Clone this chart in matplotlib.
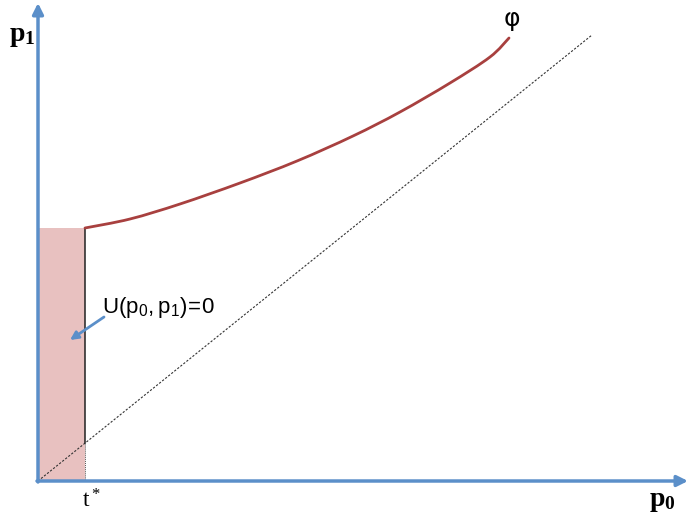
import matplotlib
matplotlib.use("Agg")
import matplotlib.pyplot as plt
from matplotlib.path import Path
from matplotlib.patches import PathPatch

plt.rcParams['mathtext.fontset'] = 'custom'
plt.rcParams['mathtext.rm'] = 'Liberation Serif'
plt.rcParams['mathtext.bf'] = 'Liberation Serif:bold'
plt.rcParams['mathtext.sf'] = 'Liberation Sans'

# threshold price and value of the boundary at the threshold
t_star = 47
p1_at_t = 253

# boundary curve phi(p0)
phi_p0 = [47, 92, 142, 202, 259, 315, 362, 412, 452, 471]
phi_p1 = [253, 262, 277, 298, 320, 345, 369, 398, 424, 443]

# 45-degree reference line end point
diag_p0 = [0, 554]
diag_p1 = [0, 446]
diag_slope = diag_p1[1] / diag_p0[1]

# axis extents
x_max = 650
y_max = 478

axis_blue = '#5b8fc9'
curve_red = '#a8403f'
fill_pink = '#e8c1c0'


def smooth_path(xs, ys):
    """Catmull-Rom spline through the given points, as cubic Bezier segments."""
    pts = list(zip(xs, ys))
    verts = [pts[0]]
    codes = [Path.MOVETO]
    n = len(pts)
    for i in range(n - 1):
        p0 = pts[i - 1] if i > 0 else pts[i]
        p1 = pts[i]
        p2 = pts[i + 1]
        p3 = pts[i + 2] if i + 2 < n else pts[i + 1]
        c1 = (p1[0] + (p2[0] - p0[0]) / 6, p1[1] + (p2[1] - p0[1]) / 6)
        c2 = (p2[0] - (p3[0] - p1[0]) / 6, p2[1] - (p3[1] - p1[1]) / 6)
        verts += [c1, c2, p2]
        codes += [Path.CURVE4] * 3
    return Path(verts, codes)


fig = plt.figure(figsize=(6.88, 5.18), dpi=100)
ax = fig.add_axes([0, 0, 1, 1])
ax.set_xlim(-38, 650)
ax.set_ylim(-37, 481)
ax.axis('off')

# region where U(p0, p1) = 0
ax.fill_between([0, t_star], 0, p1_at_t, color=fill_pink, lw=0, zorder=1)

# diagonal p1 = p0
ax.plot(diag_p0, diag_p1, color='#333333', lw=0.8, ls=(0, (2, 1.5)), zorder=2)

# vertical boundary at t*
cross = t_star * diag_slope
ax.plot([t_star, t_star], [cross, p1_at_t], color='#222222', lw=1.1, zorder=3)
ax.plot([t_star, t_star], [0, cross], color='#555555', lw=0.7, ls=(0, (1, 1)), zorder=3)

# boundary curve phi
ax.add_patch(PathPatch(smooth_path(phi_p0, phi_p1), fill=False, edgecolor=curve_red,
                       lw=2, capstyle='round', zorder=4))

# axes with arrow heads
arrow = dict(arrowstyle='-|>', lw=2.5, color=axis_blue, mutation_scale=16,
             shrinkA=0, shrinkB=0)
ax.annotate('', xy=(0, y_max), xytext=(0, -1), arrowprops=arrow, zorder=5)
ax.annotate('', xy=(x_max, 0), xytext=(-1, 0), arrowprops=arrow, zorder=5)

# labels
ax.text(-16, 446, r'$\mathbf{p_1}$', fontsize=20, ha='center', va='center')
ax.text(624, -19, r'$\mathbf{p_0}$', fontsize=20, ha='center', va='center')
ax.text(54, -19, r'$\mathrm{t^*}$', fontsize=17, ha='center', va='center')
ax.text(474, 462, 'φ', fontsize=18, ha='center', va='center', family='DejaVu Sans')

ax.text(64, 174, r'$\mathsf{U(p_0,p_1)\!=\!0}$', fontsize=16, ha='left', va='center')
ax.annotate('', xy=(32, 141), xytext=(66, 164),
            arrowprops=dict(arrowstyle='-|>', lw=2, color=axis_blue,
                            mutation_scale=12, shrinkA=0, shrinkB=0))

fig.savefig('out.png', dpi=100)
